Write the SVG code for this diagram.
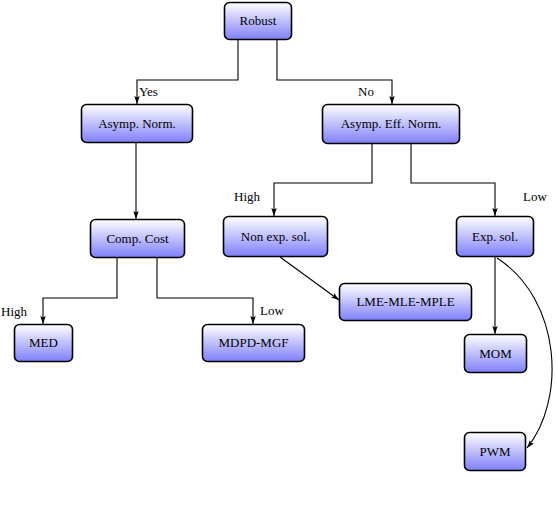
<svg xmlns="http://www.w3.org/2000/svg" width="556" height="506" viewBox="0 0 556 506">
<style>
.n rect{fill:url(#g);stroke:#000;stroke-width:1.6}
.n text{text-anchor:middle;fill:#000}
text{font-family:'Liberation Serif','DejaVu Serif',serif;font-size:13px}
#edges path{fill:none;stroke:#000;stroke-width:1.1;marker-end:url(#a)}
</style>
<defs>
<linearGradient id="g" x1="0" y1="0" x2="0" y2="1">
<stop offset="0" stop-color="#ffffff"/>
<stop offset="1" stop-color="#7f7ffa"/>
</linearGradient>
<marker id="a" viewBox="0 0 8 6" refX="8" refY="3" markerWidth="8" markerHeight="6" markerUnits="userSpaceOnUse" orient="auto">
<path d="M0,0.3 L8,3 L0,5.7 L1.5,3 Z" fill="#000"/>
</marker>
</defs>
<g id="edges">
<path d="M238,39 V80 H137 V104"/>
<path d="M277,39 V80 H392 V104"/>
<path d="M136,142 V219"/>
<path d="M372,143 V183 H274 V216"/>
<path d="M411,143 V183 H495 V216"/>
<path d="M117,257 V298 H43 V324"/>
<path d="M157,257 V298 H253 V324"/>
<path d="M280,257 L339,300"/>
<path d="M495,256 V334"/>
<path d="M497,258 C562,300 566,400 527,448"/>
</g>
<g id="labels" font-family="Liberation Serif, DejaVu Serif, serif" font-size="13">
<text x="139" y="96">Yes</text>
<text x="358" y="96">No</text>
<text x="234" y="201">High</text>
<text x="523" y="201">Low</text>
<text x="1" y="316">High</text>
<text x="260" y="315">Low</text>
</g>
<g id="robust" class="n" font-family="Liberation Serif, DejaVu Serif, serif"><rect x="224.5" y="2.5" width="67" height="37" rx="5"/><text x="258" y="25">Robust</text></g>
<g id="asympnorm" class="n"><rect x="81.5" y="104.5" width="111" height="38" rx="5"/><text x="137" y="128">Asymp. Norm.</text></g>
<g id="asympeff" class="n"><rect x="322.5" y="104.5" width="137" height="39" rx="5"/><text x="391" y="128">Asymp. Eff. Norm.</text></g>
<g id="compcost" class="n"><rect x="90.5" y="219.5" width="94" height="38" rx="5"/><text x="137.5" y="243">Comp. Cost</text></g>
<g id="nonexp" class="n"><rect x="223.5" y="216.5" width="104" height="40" rx="5"/><text x="275.5" y="241">Non exp. sol.</text></g>
<g id="expsol" class="n"><rect x="456.5" y="216.5" width="77" height="40" rx="5"/><text x="495" y="241">Exp. sol.</text></g>
<g id="lme" class="n"><rect x="339.5" y="283.5" width="132" height="37" rx="5"/><text x="405.5" y="306">LME-MLE-MPLE</text></g>
<g id="med" class="n"><rect x="14.5" y="324.5" width="58" height="37" rx="5"/><text x="43.5" y="347">MED</text></g>
<g id="mdpd" class="n"><rect x="202.5" y="324.5" width="102" height="37" rx="5"/><text x="253.5" y="347">MDPD-MGF</text></g>
<g id="mom" class="n"><rect x="464.5" y="334.5" width="62" height="38" rx="5"/><text x="495.5" y="358">MOM</text></g>
<g id="pwm" class="n"><rect x="464.5" y="432.5" width="61" height="38" rx="5"/><text x="495" y="456">PWM</text></g>
</svg>
